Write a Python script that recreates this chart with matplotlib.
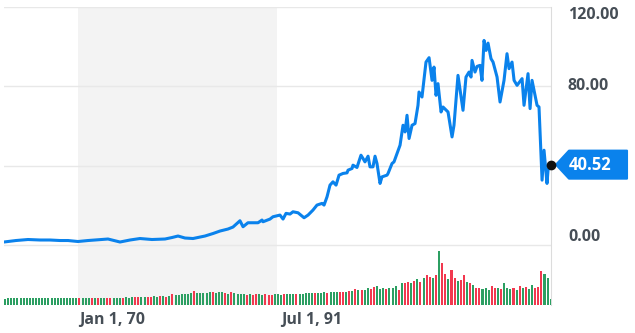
import numpy as np
import matplotlib.pyplot as plt
import matplotlib.transforms as mtransforms
from matplotlib.patches import Polygon

# price series (decimal year, price)
years = [1958.39, 1959.68, 1960.97, 1962.26, 1963.33, 1964.41, 1965.27, 1966.34, 1967.42, 1968.17,
         1969.57, 1970.22, 1970.86, 1971.94, 1973.01, 1974.30, 1975.70, 1976.45, 1977.10, 1977.85,
         1978.71, 1980.00, 1980.86, 1981.61, 1982.47, 1983.01, 1983.76, 1984.09, 1984.62, 1985.70,
         1986.13, 1986.24, 1986.99, 1987.31, 1988.06, 1988.39, 1988.71, 1989.14, 1989.46, 1990.00,
         1990.65, 1991.08, 1991.61, 1992.04, 1992.58, 1992.80, 1993.12, 1993.44, 1993.76, 1994.09,
         1994.41, 1994.84, 1995.27, 1995.38, 1995.81, 1995.91, 1996.34, 1996.77, 1996.99, 1997.20,
         1997.53, 1997.74, 1998.06, 1998.28, 1998.49, 1998.82, 1999.03, 1999.57, 1999.68, 2000.11,
         2000.32, 2000.97, 2001.29, 2001.51, 2001.72, 2001.94, 2002.26, 2002.58, 2002.90, 2003.01,
         2003.33, 2003.76, 2004.09, 2004.41, 2004.62, 2004.84, 2005.05, 2005.38, 2005.59, 2006.13,
         2006.56, 2006.77, 2007.20, 2007.74, 2008.06, 2008.39, 2008.60, 2008.71, 2009.03, 2009.25,
         2009.57, 2009.78, 2010.00, 2010.22, 2010.43, 2010.75, 2010.97, 2011.40, 2011.72, 2012.15,
         2012.47, 2012.69, 2013.01, 2013.23, 2013.55, 2014.09, 2014.30, 2014.73, 2014.95, 2015.16,
         2015.70, 2015.91, 2016.24, 2016.45, 2016.77, 2016.88, 2017.20]
price = [1.51, 2.26, 2.77, 2.52, 2.52, 2.26, 2.26, 1.76, 2.26, 2.52,
         3.02, 2.26, 1.51, 2.52, 3.27, 2.77, 3.02, 3.77, 4.53, 3.52,
         3.27, 4.53, 5.79, 7.04, 8.05, 9.06, 12.23, 9.21, 11.22, 11.22,
         12.58, 11.72, 13.08, 14.24, 15.09, 13.08, 15.95, 15.60, 16.75, 16.25,
         13.74, 15.09, 17.61, 20.13, 20.98, 20.13, 24.30, 30.19, 31.85, 30.19,
         35.22, 36.08, 36.38, 37.74, 38.59, 40.25, 39.09, 45.28, 43.62, 41.91,
         44.78, 39.40, 39.40, 44.78, 41.11, 31.04, 34.36, 35.22, 36.08, 41.11,
         41.91, 50.31, 60.38, 57.01, 65.41, 53.69, 60.38, 61.23, 70.44, 77.13,
         74.62, 92.23, 94.44, 83.02, 89.71, 75.47, 81.36, 67.07, 69.58, 67.07,
         54.49, 60.38, 85.53, 67.92, 84.68, 87.20, 84.68, 93.08, 87.20, 90.06,
         90.57, 83.02, 103.14, 98.11, 101.79, 93.94, 92.23, 84.68, 72.10, 83.02,
         96.45, 88.91, 92.23, 83.02, 80.50, 83.87, 70.44, 86.39, 68.78, 83.02,
         70.44, 69.58, 32.70, 47.80, 31.04, 37.74, 40.52]

# volume bars, one every 4 months from mid 1958
vol_start = 1958.5
volume = [6.5, 6.8, 6.6, 6.7, 6.9, 6.6, 6.8, 6.7, 6.6, 6.9, 6.8, 6.7, 6.6, 6.8, 7.0, 6.9,
          6.7, 6.8, 6.9, 6.7, 6.8, 6.6, 6.9, 7.0,
          7.2, 7.0, 7.1, 6.9, 7.3, 7.1, 7.0, 7.4, 7.2, 7.1, 7.5, 7.3, 7.0, 7.2, 7.4, 7.6, 7.3,
          7.8, 8.2, 7.6, 7.9, 8.4, 8.0, 8.3, 8.6, 8.1, 8.8, 9.0, 8.5, 9.2, 11.5, 10.5,
          10.2, 10.8, 11.0, 10.6, 12.0, 13.8, 12.5, 12.0, 11.6, 12.4,
          12.8, 13.0, 12.2, 12.6, 13.2, 12.0, 11.5, 12.8, 12.2, 11.0, 11.4,
          10.8, 10.5, 11.0, 10.2, 10.6, 11.2, 10.4, 10.8, 10.0, 10.5, 11.0, 10.7, 10.3, 10.9,
          11.4, 10.6, 10.8, 11.0, 11.5, 11.2,
          11.6, 11.9, 12.2, 11.8, 12.5, 12.0, 12.8, 12.4, 13.0, 12.6, 13.2, 13.5, 12.9, 13.4, 14.0,
          14.5, 16.0, 15.2, 14.8, 15.5, 16.7, 15.8, 18.0, 19.0,
          16.5, 17.0, 16.2, 17.5, 16.8, 19.0, 15.5, 22.0,
          22.5, 23.0, 22.0, 24.5, 26.0, 23.5, 26.7, 30.0, 28.0, 27.5, 30.5,
          54.0, 41.7, 30.7, 25.7, 35.0, 27.0, 24.0, 25.0, 30.0, 23.0, 21.7, 19.7, 16.7, 17.0,
          16.5, 17.5, 15.0, 19.0, 16.7, 17.2, 16.5, 21.7, 17.0, 16.5, 17.5, 15.5, 19.0, 16.8,
          18.0, 16.5, 20.0, 16.7, 18.0, 34.0, 31.0, 27.0, 5.7]
vol_dir = ("g" * 24 + "rgggrgrggrrgggrgg" + "grrggrrggrgrgrg" + "gggggrgggg" + "grgggrgrggg"
           + "grgrrggrrrgggrgggrgg" + "gggrgggrgggrrgr" + "grgrggrrg" + "ggrgggrg"
           + "rrgrgrgrrgr" + "grrgrrgrrgrgrrgggrrgrgggrgrgrggrrrggg")

shade = (1966.3, 1987.7)
y_ticks = [0, 40, 80, 120]
x_ticks = [1970.0, 1991.5]
x_labels = ["Jan 1, 70", "Jul 1, 91"]

blue = "#0a82ec"
green = "#2c9f62"
red = "#f2384f"
txt = "#464e56"
plt.rcParams['font.family'] = ['Open Sans', 'DejaVu Sans']

fig = plt.figure(figsize=(6.35, 3.33), dpi=100)
ax = fig.add_axes([4 / 635, 28 / 333, 547 / 635, 298 / 333])
ax.set_xlim(years[0], years[-1])
ax.set_ylim(-30.25, 120)

ax.axvspan(shade[0], shade[1], color="#f3f3f3", zorder=0, lw=0)
for v in y_ticks:
    ax.axhline(v, color="#e8e8e8", lw=1, zorder=1)

ax.plot(years, price, color=blue, lw=2.2, zorder=4, solid_joinstyle='round')

# volume on a second y scale
ax2 = ax.twinx()
ax2.set_ylim(0, 298)
vx = vol_start + np.arange(len(volume)) / 3
ax2.bar(vx, volume, width=0.22, color=[green if c == "g" else red for c in vol_dir],
        lw=0, zorder=2)

for a in (ax, ax2):
    a.set_xticks([])
    a.set_yticks([])
    for s in a.spines.values():
        s.set_visible(False)
ax.spines['right'].set_visible(True)
ax.spines['right'].set_color("#dcdcdc")

# right side labels
offs = {120: -8, 80: 0, 0: 8}
for v, dy in offs.items():
    ax.annotate(f"{v:.2f}", xy=(1, v), xycoords=('axes fraction', 'data'),
                xytext=(17, dy), textcoords='offset pixels', ha='left', va='center',
                fontsize=11.5, color=txt, fontweight='bold')

for xv, lab in zip(x_ticks, x_labels):
    ax.annotate(lab, xy=(xv, 0), xycoords=('data', 'axes fraction'),
                xytext=(0, -15), textcoords='offset pixels', ha='center', va='center',
                fontsize=11.5, color=txt, fontweight='bold')

# last price tag
tr = fig.dpi_scale_trans + mtransforms.ScaledTranslation(years[-1], price[-1], ax.transData)
tag = Polygon(np.array([[5, 0], [18, 14], [76, 14], [76, -14], [18, -14]]) / 100,
              closed=True, transform=tr, fc=blue, ec=blue, lw=1.5, joinstyle='round',
              clip_on=False, zorder=6)
ax.add_artist(tag)
ax.annotate(f"{price[-1]:.2f}", xy=(years[-1], price[-1]), xytext=(18, 0),
            textcoords='offset pixels', ha='left', va='center', fontsize=12,
            color='white', fontweight='bold', zorder=7, annotation_clip=False)
ax.plot(years[-1], price[-1], 'o', color='#111111', ms=6, zorder=8, clip_on=False)

fig.savefig("out.png", dpi=100)
